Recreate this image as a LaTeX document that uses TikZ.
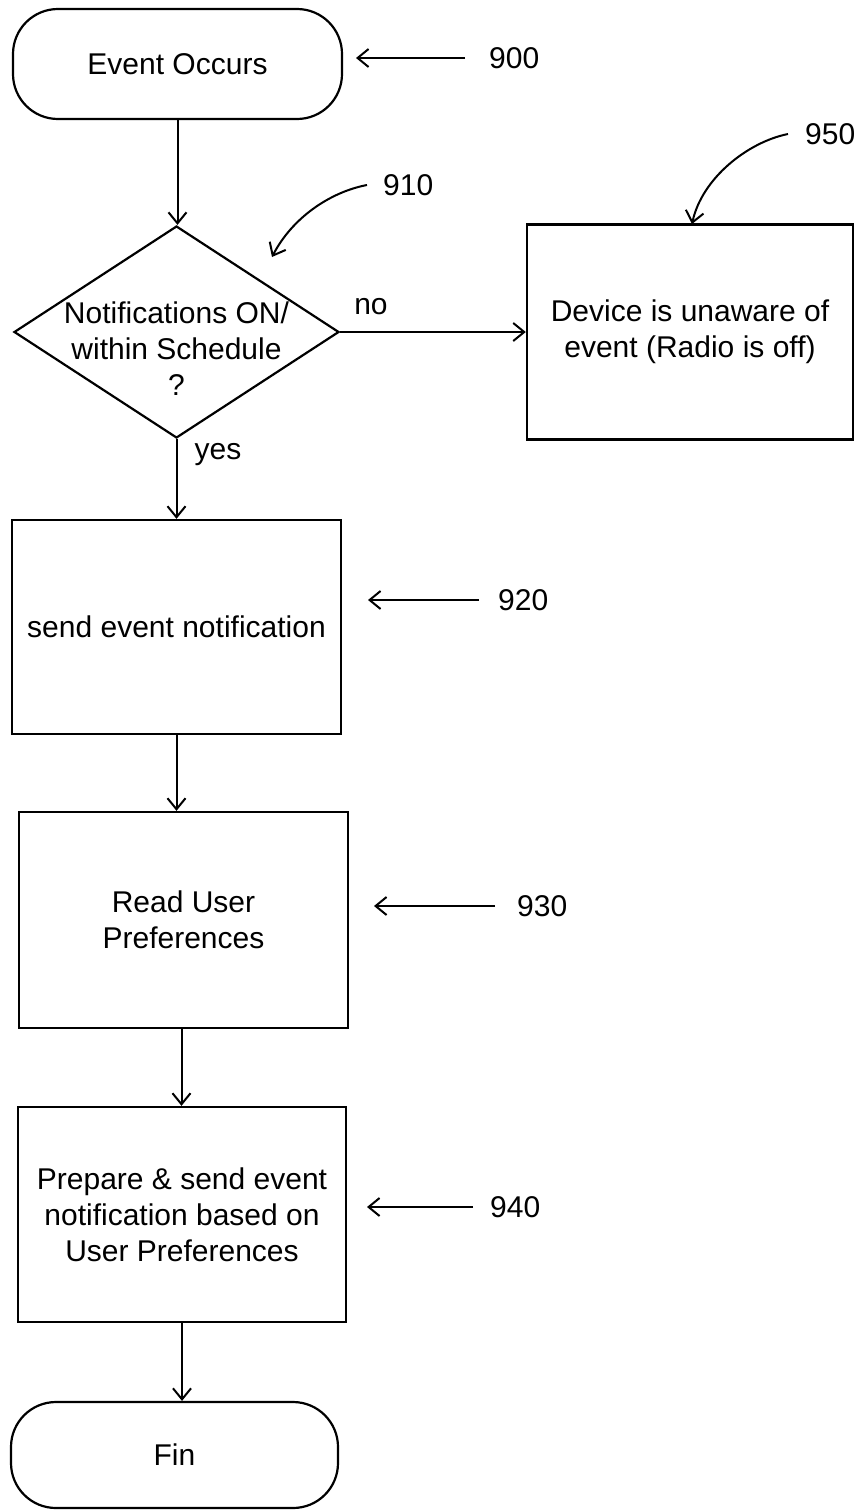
\documentclass[tikz,border=0pt]{standalone}
\usepackage{fontspec}
\setmainfont{Liberation Sans}
\usetikzlibrary{arrows.meta,shapes.geometric}
\begin{document}
\begin{tikzpicture}[x=1pt,y=-1pt,
  txt/.style={font=\fontsize{30}{36}\selectfont,align=center,inner sep=0pt},
  box/.style={draw,line width=2.4pt,inner sep=0pt,txt},
  term/.style={draw,line width=2.2pt,rounded corners=45pt,inner sep=0pt,txt},
  dec/.style={draw,diamond,line width=2.2pt,inner sep=0pt},
  conn/.style={line width=2pt,-{Straight Barb[length=11pt,width=18pt,line width=2pt]}},
  refnum/.style={txt,anchor=west},
]
\useasboundingbox (0,0) rectangle (854,1510);

% main flow
\node[term,minimum width=329pt,minimum height=110pt] (start) at (177.5,64) {Event Occurs};
\node[dec,minimum width=325pt,minimum height=212pt] (check) at (176.5,332) {};
\node[txt] (checktext) at (176.5,349) {Notifications ON/\\within Schedule\\?};
\node[box,minimum width=326pt,minimum height=215pt] (unaware) at (690,332) {Device is unaware of\\event (Radio is off)};
\node[box,minimum width=329pt,minimum height=214pt] (send) at (176.5,627) {send event notification};
\node[box,minimum width=329pt,minimum height=216pt] (read) at (183.5,920) {Read User\\Preferences};
\node[box,minimum width=328pt,minimum height=215pt] (prep) at (182,1214.5) {Prepare \& send event\\notification based on\\User Preferences};
\node[term,minimum width=327pt,minimum height=106pt] (fin) at (174.5,1455) {Fin};

% connectors
\draw[conn] (start.south) -- (start.south |- check.north);
\draw[conn] (check.east) -- (unaware.west);
\draw[conn] (check.south) -- (check.south |- send.north);
\draw[conn] (send.south) -- (send.south |- read.north);
\draw[conn] ([xshift=-2pt]read.south) -- ([xshift=-2pt]read.south |- prep.north);
\draw[conn] (prep.south) -- (prep.south |- fin.north);

\node[txt] (no) at (371,307) {no};
\node[txt] (yes) at (218,455) {yes};

% reference numerals
\node[refnum] (r900) at (489,58) {900};
\coordinate (a900) at (356,58);
\draw[conn] ([xshift=-24pt]r900.west) -- (a900);

\node[refnum] (r910) at (383,185) {910};
\coordinate (a910) at (272,257);
\draw[conn] ([xshift=-16pt]r910.west) .. controls (330,192) and (292,218) .. (a910);

\node[refnum] (r950) at (805,134) {950};
\coordinate (a950) at (692,224);
\draw[conn] ([xshift=-17pt]r950.west) .. controls (748,142) and (702,178) .. (a950);

\node[refnum] (r920) at (498,600) {920};
\coordinate (a920) at (368,600);
\draw[conn] ([xshift=-19pt]r920.west) -- (a920);

\node[refnum] (r930) at (517,906) {930};
\coordinate (a930) at (374,906);
\draw[conn] ([xshift=-22pt]r930.west) -- (a930);

\node[refnum] (r940) at (490,1207) {940};
\coordinate (a940) at (367,1207);
\draw[conn] ([xshift=-17pt]r940.west) -- (a940);
\end{tikzpicture}
\end{document}
